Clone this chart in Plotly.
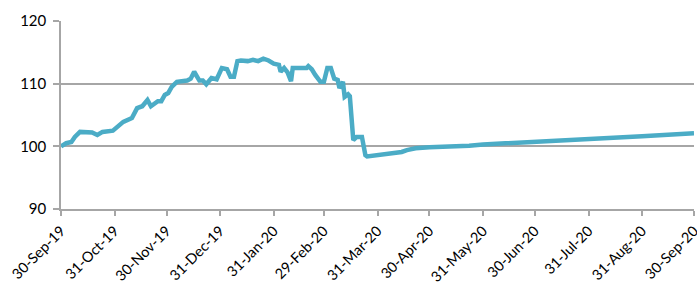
import plotly.graph_objects as go

dates = [
    "2019-09-30", "2019-10-03", "2019-10-06", "2019-10-08", "2019-10-11", "2019-10-15",
    "2019-10-18", "2019-10-21", "2019-10-24", "2019-10-30", "2019-11-02", "2019-11-05",
    "2019-11-10", "2019-11-13", "2019-11-16", "2019-11-19", "2019-11-21", "2019-11-25",
    "2019-11-27", "2019-11-29", "2019-12-01", "2019-12-03", "2019-12-06", "2019-12-12",
    "2019-12-14", "2019-12-16", "2019-12-19", "2019-12-21", "2019-12-23", "2019-12-26",
    "2019-12-29", "2020-01-01", "2020-01-04", "2020-01-06", "2020-01-08", "2020-01-10",
    "2020-01-12", "2020-01-16", "2020-01-19", "2020-01-22", "2020-01-25", "2020-01-28",
    "2020-01-31", "2020-02-03", "2020-02-04", "2020-02-06", "2020-02-08", "2020-02-10",
    "2020-02-11", "2020-02-15", "2020-02-19", "2020-02-20", "2020-02-22", "2020-02-24",
    "2020-02-27", "2020-02-29", "2020-03-02", "2020-03-04", "2020-03-06", "2020-03-08",
    "2020-03-09", "2020-03-11", "2020-03-12", "2020-03-14", "2020-03-15", "2020-03-17",
    "2020-03-19", "2020-03-22", "2020-03-24", "2020-03-25", "2020-04-14", "2020-04-17",
    "2020-04-22", "2020-04-30", "2020-05-12", "2020-05-23", "2020-05-31", "2020-06-30",
    "2020-07-31", "2020-08-31", "2020-09-30",
]
values = [
    100.0, 100.5, 100.7, 101.5, 102.3, 102.3,
    102.2, 101.8, 102.3, 102.5, 103.1, 103.9,
    104.5, 106.1, 106.4, 107.4, 106.4, 107.2,
    107.2, 108.2, 108.5, 109.5, 110.3, 110.5,
    110.8, 111.9, 110.5, 110.5, 109.9, 110.9,
    110.7, 112.5, 112.3, 111.1, 111.1, 113.6,
    113.7, 113.6, 113.8, 113.6, 114.0, 113.7,
    113.2, 113.0, 111.9, 112.5, 111.8, 110.4,
    112.5, 112.5, 112.5, 112.8, 112.3, 111.4,
    110.3, 110.3, 112.5, 112.5, 110.8, 110.6,
    109.3, 110.3, 107.9, 108.3, 108.0, 101.0,
    101.5, 101.5, 98.6, 98.4, 99.1, 99.4,
    99.7, 99.85, 99.95, 100.1, 100.3, 100.7,
    101.1, 101.6, 102.1,
]

tick_vals = ["2019-09-30", "2019-10-31", "2019-11-30", "2019-12-31", "2020-01-31",
             "2020-02-29", "2020-03-31", "2020-04-30", "2020-05-31", "2020-06-30",
             "2020-07-31", "2020-08-31", "2020-09-30"]
tick_text = ["30-Sep-19", "31-Oct-19", "30-Nov-19", "31-Dec-19", "31-Jan-20",
             "29-Feb-20", "31-Mar-20", "30-Apr-20", "31-May-20", "30-Jun-20",
             "31-Jul-20", "31-Aug-20", "30-Sep-20"]
y_ticks = [90, 100, 110, 120]

fig = go.Figure()
fig.add_trace(go.Scatter(
    x=dates, y=values, mode="lines",
    line=dict(color="#4bacc6", width=4.5),
    showlegend=False,
))

fig.update_layout(
    width=697, height=286, autosize=False,
    margin=dict(l=61, r=3, t=21, b=77),
    paper_bgcolor="white", plot_bgcolor="white",
    font=dict(family="Lato, sans-serif", color="#000000"),
    xaxis=dict(
        type="date", automargin=False,
        range=["2019-09-30", "2020-09-30"],
        tickmode="array", tickvals=tick_vals, ticktext=tick_text,
        tickangle=-45, tickfont=dict(size=14.5),
        ticklabeloverflow="allow", ticklabelshift=0, ticklabelstandoff=1,
        showgrid=False, showline=True, linecolor="#a6a6a6", linewidth=1.5,
        ticks="outside", ticklen=5, tickcolor="#a6a6a6", tickwidth=1.5,
        zeroline=False,
    ),
    yaxis=dict(
        automargin=False,
        range=[90, 120],
        tickmode="array", tickvals=y_ticks,
        tickfont=dict(size=15), ticklabelstandoff=4,
        showgrid=True, gridcolor="#a6a6a6", gridwidth=1.5,
        showline=True, linecolor="#a6a6a6", linewidth=1.5,
        ticks="outside", ticklen=6, tickcolor="#a6a6a6", tickwidth=1.5,
        zeroline=False,
    ),
)

fig.write_html(
    "out.html",
    config={"responsive": False, "displayModeBar": False},
    default_width="697px", default_height="286px",
    post_script="document.body.style.margin='0';document.body.style.overflow='hidden';",
)
